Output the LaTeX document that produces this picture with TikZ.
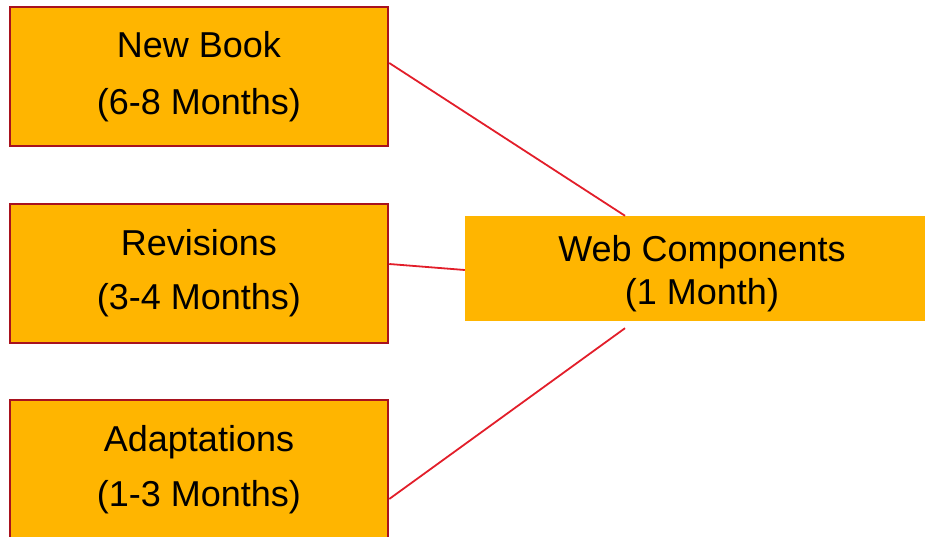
\documentclass[tikz,border=0pt]{standalone}
\usepackage{fontspec}
\setmainfont{Liberation Sans}
\usetikzlibrary{calc}
\definecolor{boxfill}{RGB}{255,181,0}
\definecolor{boxedge}{RGB}{168,18,30}
\definecolor{linkred}{RGB}{226,30,42}
\tikzset{
  phase/.style={fill=boxfill, draw=boxedge, line width=2.5pt, inner sep=0pt,
    minimum width=378pt, minimum height=139pt, align=center,
    font=\fontsize{36}{57}\selectfont},
  hub/.style={fill=boxfill, inner sep=0pt, minimum width=474pt, minimum height=105pt},
  hubtext/.style={align=center, inner sep=0pt, font=\fontsize{36}{43}\selectfont},
  link/.style={draw=linkred, line width=1.8pt}
}
\begin{document}
\begin{tikzpicture}[x=1pt,y=-1pt]
\useasboundingbox (0,0) rectangle (925,537);
% three source phases on the left
\node[phase] (newbook) at (199,76.5) {New Book\\(6-8 Months)};
\node[phase] (revisions) at (199,273.5) {Revisions\\[-3pt](3-4 Months)};
\node[phase] (adapt) at (199,469.5) {Adaptations\\[-2pt](1-3 Months)};
% shared web stage on the right
\node[hub] (web) at (702,268.5) {};
\node[hubtext] (webtext) at (702,274) {Web Components\\(1 Month)};
% connectors
\draw[link] ([yshift=13.5pt]newbook.east) -- ([xshift=-77pt]web.north);
\draw[link] ([yshift=9.5pt]revisions.east) -- ([yshift=-1.5pt]web.west);
\draw[link] ([yshift=-29.5pt]adapt.east) -- ([xshift=-77pt,yshift=-7pt]web.south);
\end{tikzpicture}
\end{document}
